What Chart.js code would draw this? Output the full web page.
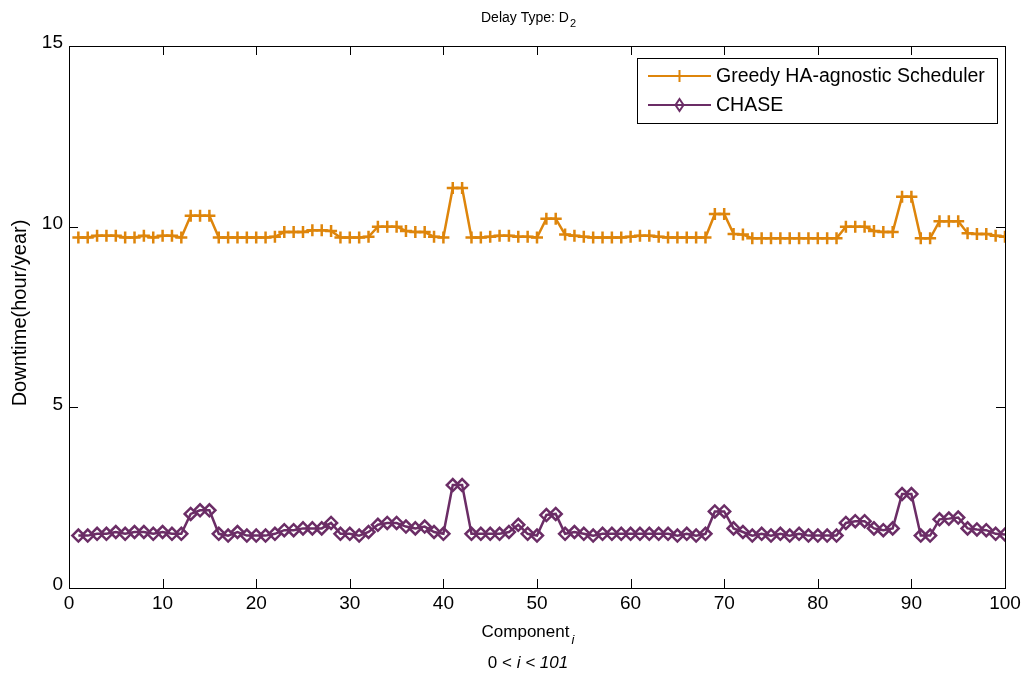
<!DOCTYPE html>
<html>
<head>
<meta charset="utf-8">
<script src="https://cdn.jsdelivr.net/npm/chart.js@4.4.1/dist/chart.umd.min.js"></script>
<style>
html,body{margin:0;padding:0;background:#fff;}
#wrap{position:relative;width:1026px;height:679px;}
canvas{display:block;}
</style>
</head>
<body>
<div id="wrap"><canvas id="c" width="1026" height="679"></canvas></div>
<script>
const components = Array.from({length:100},(_,i)=>i+1);
const greedy = [
 9.7,9.7,9.75,9.75,9.75,9.7,9.7,9.75,9.7,9.75,9.75,9.7,
 10.3,10.3,10.3,
 9.7,9.7,9.7,9.7,9.7,9.7,9.72,
 9.85,9.85,9.85,9.9,9.9,9.88,
 9.7,9.7,9.7,9.72,
 10.0,10.0,10.0,
 9.88,9.85,9.85,9.72,9.7,
 11.07,11.07,
 9.7,9.7,9.72,9.75,9.75,9.72,9.72,9.7,
 10.22,10.22,
 9.78,9.75,9.72,9.7,9.7,9.7,9.7,9.72,9.75,9.75,9.72,9.7,9.7,9.7,9.7,9.7,
 10.35,10.35,
 9.8,9.78,
 9.68,9.68,9.68,9.68,9.68,9.68,9.68,9.68,9.68,9.68,
 10.0,10.0,10.0,
 9.88,9.85,9.85,
 10.83,10.83,
 9.68,9.68,
 10.15,10.15,10.15,
 9.82,9.8,9.8,9.75,9.72
];
const chase = [
 1.45,1.45,1.5,1.5,1.55,1.5,1.55,1.55,1.5,1.55,1.5,1.5,
 2.05,2.15,2.15,
 1.5,1.45,1.55,1.45,1.45,1.45,1.5,
 1.6,1.6,1.65,1.65,1.65,1.8,
 1.5,1.5,1.45,1.55,
 1.75,1.8,1.8,
 1.7,1.65,1.7,1.55,1.5,
 2.85,2.85,
 1.5,1.5,1.5,1.5,1.55,1.75,1.5,1.45,
 2.02,2.05,
 1.5,1.55,1.5,1.45,1.5,1.5,1.5,1.5,1.5,1.5,1.5,1.5,1.45,1.5,1.45,1.5,
 2.12,2.12,
 1.65,1.55,
 1.45,1.5,1.45,1.5,1.45,1.5,1.45,1.45,1.45,1.45,
 1.8,1.85,1.85,
 1.65,1.6,1.65,
 2.6,2.6,
 1.45,1.45,
 1.9,1.92,1.95,
 1.65,1.62,1.6,1.5,1.48
];
const xTicks = [0,10,20,30,40,50,60,70,80,90,100];
const yTicks = [0,5,10,15];
const seriesNames = ['Greedy HA-agnostic Scheduler','CHASE'];
const orange = '#DE850B';
const purple = '#6B2D66';

const FONT = '"Liberation Sans", Arial, sans-serif';
const L=69, R=1005, T=46, B=588;

const frame = {
  id:'frame',
  afterDraw(chart){
    const ctx = chart.ctx;
    const a = chart.chartArea;
    const xs = chart.scales.x, ys = chart.scales.y;
    ctx.save();
    ctx.strokeStyle='#000'; ctx.lineWidth=1;
    ctx.strokeRect(Math.round(a.left)+0.5, Math.round(a.top)+0.5, Math.round(a.right-a.left), Math.round(a.bottom-a.top));
    const tl = 9;
    ctx.beginPath();
    xTicks.forEach(v=>{
      const px = Math.round(xs.getPixelForValue(v))+0.5;
      ctx.moveTo(px,a.bottom); ctx.lineTo(px,a.bottom-tl);
      ctx.moveTo(px,a.top); ctx.lineTo(px,a.top+tl);
    });
    yTicks.forEach(v=>{
      const py = Math.round(ys.getPixelForValue(v))+0.5;
      ctx.moveTo(a.left,py); ctx.lineTo(a.left+tl,py);
      ctx.moveTo(a.right,py); ctx.lineTo(a.right-tl,py);
    });
    ctx.stroke();
    // tick labels
    ctx.fillStyle='#000';
    ctx.font = '19px '+FONT;
    ctx.textAlign='center'; ctx.textBaseline='middle';
    xTicks.forEach(v=>{
      ctx.fillText(String(v), xs.getPixelForValue(v), a.bottom+16);
    });
    ctx.textAlign='right'; ctx.textBaseline='middle';
    yTicks.forEach(v=>{
      ctx.fillText(String(v), a.left-6, ys.getPixelForValue(v)-3);
    });
    // title
    ctx.font = '14px '+FONT;
    ctx.textBaseline='alphabetic';
    ctx.textAlign='left';
    const t1='Delay Type: D';
    const w1=ctx.measureText(t1).width;
    ctx.font='11px '+FONT;
    const w2=ctx.measureText('2').width;
    let sx = 528-(w1+w2)/2;
    ctx.font='14px '+FONT;
    ctx.fillText(t1, sx, 22);
    ctx.font='11px '+FONT;
    ctx.fillText('2', sx+w1+1, 27);
    // x label
    ctx.font='17px '+FONT;
    const c1='Component';
    const cw=ctx.measureText(c1).width;
    sx = 528-(cw+5)/2;
    ctx.fillText(c1, sx, 637);
    ctx.font='italic 13px '+FONT;
    ctx.fillText('i', sx+cw+2, 644);
    // second line
    const parts=[['0 < ','17px '],['i','italic 17px '],[' < 101','italic 17px ']];
    let tw=0; parts.forEach(p=>{ctx.font=p[1]+FONT; tw+=ctx.measureText(p[0]).width;});
    sx = 528-tw/2;
    parts.forEach(p=>{ctx.font=p[1]+FONT; ctx.fillText(p[0], sx, 668); sx+=ctx.measureText(p[0]).width;});
    // y label
    ctx.save();
    ctx.translate(26, 313);
    ctx.rotate(-Math.PI/2);
    ctx.font='20px '+FONT;
    ctx.textAlign='center';
    ctx.fillText('Downtime(hour/year)',0,0);
    ctx.restore();
    // legend
    const lx=637, ly=58, lw=360, lh=65;
    ctx.fillStyle='#fff';
    ctx.fillRect(lx,ly,lw,lh);
    ctx.strokeStyle='#000'; ctx.lineWidth=1;
    ctx.strokeRect(lx+0.5,ly+0.5,lw,lh);
    const rows=[{y:76,c:orange,n:seriesNames[0],m:'plus'},{y:105,c:purple,n:seriesNames[1],m:'diamond'}];
    rows.forEach(r=>{
      ctx.strokeStyle=r.c; ctx.lineWidth=2;
      ctx.beginPath(); ctx.moveTo(648,r.y); ctx.lineTo(711,r.y); ctx.stroke();
      const cx=679.5;
      ctx.beginPath();
      if(r.m==='plus'){
        ctx.moveTo(cx-5,r.y); ctx.lineTo(cx+5,r.y);
        ctx.moveTo(cx,r.y-6); ctx.lineTo(cx,r.y+6);
      } else {
        ctx.moveTo(cx,r.y-6); ctx.lineTo(cx+4,r.y); ctx.lineTo(cx,r.y+6); ctx.lineTo(cx-4,r.y); ctx.closePath();
      }
      ctx.stroke();
      ctx.fillStyle='#000';
      ctx.font='19.5px '+FONT;
      ctx.textAlign='left'; ctx.textBaseline='middle';
      ctx.fillText(r.n, 716, r.y+1);
    });
    ctx.restore();
  }
};

new Chart(document.getElementById('c'), {
  type:'line',
  data:{
    labels: components,
    datasets:[
      {label:seriesNames[0], data:greedy, borderColor:orange, backgroundColor:orange,
       borderWidth:2.5, pointStyle:'cross', pointRadius:6, pointBorderWidth:2.5, pointBorderColor:orange,
       tension:0, fill:false},
      {label:seriesNames[1], data:chase, borderColor:purple, backgroundColor:'rgba(0,0,0,0)',
       borderWidth:2.5, pointStyle:'rectRot', pointRadius:6, pointBorderWidth:2.5, pointBorderColor:purple,
       pointBackgroundColor:'rgba(255,255,255,0)', tension:0, fill:false}
    ]
  },
  options:{
    responsive:false, animation:false, devicePixelRatio:1,
    layout:{padding:{top:T, right:1026-R, left:0, bottom:0}},
    plugins:{legend:{display:false}, title:{display:false}, tooltip:{enabled:false}},
    scales:{
      x:{type:'linear', min:0, max:100,
         afterFit(s){ s.height = 679-B; },
         ticks:{display:false, stepSize:10}, grid:{display:false}, border:{display:false}},
      y:{type:'linear', min:0, max:15,
         afterFit(s){ s.width = L; },
         ticks:{display:false, stepSize:5}, grid:{display:false}, border:{display:false}}
    }
  },
  plugins:[frame]
});
</script>
</body>
</html>
